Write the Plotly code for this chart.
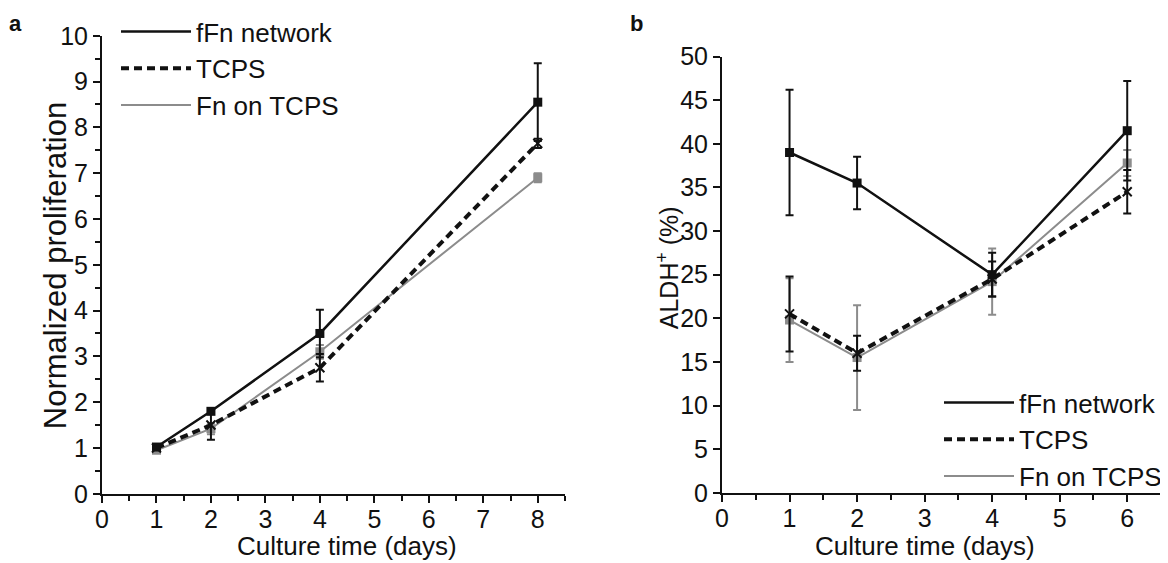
import plotly.graph_objects as go

# ---- data: panel a (normalized proliferation) ----
days_a = [1, 2, 4, 8]
ffn_a = [1.02, 1.80, 3.50, 8.55]
ffn_a_err = [0.05, 0.06, 0.52, 0.85]
tcps_a = [1.00, 1.50, 2.75, 7.65]
tcps_a_err = [0.04, 0.32, 0.30, 0.10]
fn_a = [0.95, 1.42, 3.10, 6.90]
fn_a_err = [0.05, 0.12, 0.15, 0.10]

# ---- data: panel b (ALDH+ %) ----
days_b = [1, 2, 4, 6]
ffn_b = [39.0, 35.5, 25.0, 41.5]
ffn_b_err = [7.2, 3.0, 2.5, 5.7]
tcps_b = [20.5, 16.0, 24.5, 34.5]
tcps_b_err = [4.3, 2.0, 2.0, 2.5]
fn_b = [19.8, 15.5, 24.2, 37.8]
fn_b_err = [4.8, 6.0, 3.8, 1.5]

series_names = ["fFn network", "TCPS", "Fn on TCPS"]

FONT = "Liberation Sans, Arial, sans-serif"
BLACK = "#111111"
GRAY = "#8c8c8c"

styles = [
    dict(line=dict(color=BLACK, width=2.5),
         marker=dict(symbol="square", size=9, color=BLACK)),
    dict(line=dict(color=BLACK, width=4, dash="8px,5px"),
         marker=dict(symbol="x-thin", size=9, color=BLACK, line=dict(width=2, color=BLACK))),
    dict(line=dict(color=GRAY, width=2),
         marker=dict(symbol="square", size=9, color=GRAY)),
]
err_colors = [BLACK, BLACK, GRAY]

fig = go.Figure()

panels = [
    ("x", "y", "legend", days_a, [ffn_a, tcps_a, fn_a], [ffn_a_err, tcps_a_err, fn_a_err]),
    ("x2", "y2", "legend2", days_b, [ffn_b, tcps_b, fn_b], [ffn_b_err, tcps_b_err, fn_b_err]),
]

for xa, ya, leg, days, vals, errs in panels:
    order = [2, 1, 0]  # draw grey first, black on top
    for i in order:
        fig.add_trace(go.Scatter(
            x=days, y=vals[i], mode="lines+markers", name=series_names[i],
            line=styles[i]["line"], marker=styles[i]["marker"],
            error_y=dict(type="data", array=errs[i], visible=True,
                         color=err_colors[i], thickness=2, width=4),
            xaxis=xa, yaxis=ya, showlegend=False, cliponaxis=False,
        ))
    # legend-only line samples
    for i in range(3):
        fig.add_trace(go.Scatter(
            x=[None], y=[None], mode="lines", name=series_names[i],
            line=styles[i]["line"], xaxis=xa, yaxis=ya,
            legend=leg, legendgroup=f"{leg}{i}", showlegend=True,
        ))

# page body has an 8px margin: size the figure so it fills the window
OFF = 8
W, H = 1168 - OFF, 563 - OFF

def px_x(p):
    return (p - OFF) / W

def px_y(p):
    return (H - (p - OFF)) / H

axis_common = dict(
    showgrid=False, zeroline=False, showline=True, linecolor=BLACK, linewidth=2,
    ticks="outside", ticklen=7, tickwidth=2, tickcolor=BLACK, automargin=False,
    tickfont=dict(family=FONT, size=25, color=BLACK),
)
minor_ticks = dict(dtick=0.5, ticks="outside", ticklen=5, tickwidth=2, tickcolor=BLACK)

fig.update_layout(
    width=W, height=H,
    paper_bgcolor="white", plot_bgcolor="white",
    margin=dict(l=0, r=0, t=0, b=0),
    font=dict(family=FONT, color=BLACK),
    xaxis=dict(domain=[px_x(102), px_x(565)], range=[0, 8.5], dtick=1, anchor="y",
               minor=minor_ticks, ticklabelstandoff=-5, **axis_common),
    yaxis=dict(domain=[px_y(493), px_y(30)], range=[0, 10], dtick=1, anchor="x",
               minor=minor_ticks, ticklabelstandoff=0, **axis_common),
    xaxis2=dict(domain=[px_x(722), px_x(1161)], range=[0, 6.5], dtick=1, anchor="y2",
                minor=minor_ticks, ticklabelstandoff=-5, **axis_common),
    yaxis2=dict(domain=[px_y(492), px_y(51)], range=[0, 50], dtick=5, anchor="x2",
                ticklabelstandoff=0, **axis_common),
    legend=dict(x=px_x(116), y=px_y(2), xanchor="left", yanchor="top",
                bgcolor="rgba(0,0,0,0)", font=dict(family=FONT, size=26, color=BLACK),
                tracegroupgap=0, itemwidth=70),
    legend2=dict(x=px_x(939), y=px_y(377), xanchor="left", yanchor="top",
                 bgcolor="rgba(0,0,0,0)", font=dict(family=FONT, size=26, color=BLACK),
                 tracegroupgap=0, itemwidth=70),
    annotations=[
        dict(text="<b>a</b>", x=px_x(15), y=px_y(18), xref="paper", yref="paper",
             xanchor="center", yanchor="middle",
             showarrow=False, font=dict(family=FONT, size=22, color=BLACK)),
        dict(text="<b>b</b>", x=px_x(636), y=px_y(18), xref="paper", yref="paper",
             xanchor="center", yanchor="middle",
             showarrow=False, font=dict(family=FONT, size=22, color=BLACK)),
        dict(text="Normalized proliferation", x=px_x(55), y=px_y(263), xref="paper", yref="paper",
             xanchor="center", yanchor="middle",
             showarrow=False, textangle=-90, font=dict(family=FONT, size=31, color=BLACK)),
        dict(text="ALDH<sup>+</sup> (%)", x=px_x(668), y=px_y(265), xref="paper", yref="paper",
             xanchor="center", yanchor="middle",
             showarrow=False, textangle=-90, font=dict(family=FONT, size=25, color=BLACK)),
        dict(text="Culture time (days)", x=4.5, y=px_y(546), xref="x", yref="paper",
             xanchor="center", yanchor="middle",
             showarrow=False, font=dict(family=FONT, size=26, color=BLACK)),
        dict(text="Culture time (days)", x=3, y=px_y(546), xref="x2", yref="paper",
             xanchor="center", yanchor="middle",
             showarrow=False, font=dict(family=FONT, size=26, color=BLACK)),
    ],
)

fig.write_html("out.html")
